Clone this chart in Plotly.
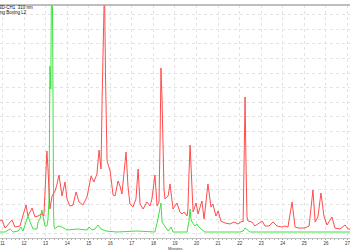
import plotly.graph_objects as go

# Retention time (min) and absorbance (arbitrary units)
red_time = [10.88, 10.98, 11.12, 11.44, 11.58, 11.81, 12.09, 12.18, 12.37, 12.51, 12.65, 12.83, 12.92,
            12.97, 13.06, 13.11, 13.16, 13.20, 13.30, 13.44, 13.53, 13.62, 13.76, 13.90, 13.99, 14.13,
            14.27, 14.41, 14.55, 14.73, 14.92, 15.11, 15.24, 15.38, 15.48, 15.57, 15.62, 15.64, 15.69,
            15.73, 15.78, 15.80, 15.85, 15.99, 16.08, 16.13, 16.22, 16.36, 16.45, 16.54, 16.73, 16.82,
            16.91, 17.05, 17.19, 17.29, 17.38, 17.52, 17.70, 17.84, 17.93, 18.07, 18.17, 18.26, 18.31,
            18.35, 18.40, 18.44, 18.49, 18.54, 18.68, 18.77, 18.91, 19.09, 19.23, 19.33, 19.42, 19.56,
            19.60, 19.65, 19.70, 19.74, 19.79, 19.84, 19.98, 20.07, 20.25, 20.35, 20.53, 20.62, 20.67,
            20.76, 20.90, 21.00, 21.13, 21.32, 21.55, 21.74, 21.92, 22.11, 22.16, 22.20, 22.25, 22.29,
            22.34, 22.39, 22.57, 22.71, 23.04, 23.18, 23.36, 23.55, 23.73, 23.96, 24.06, 24.24, 24.43,
            24.57, 24.71, 25.03, 25.22, 25.40, 25.50, 25.63, 25.77, 25.91, 26.05, 26.28, 26.42, 26.65,
            26.89, 27.03, 27.12]
red_value = [13, 14, 6, 14, 7, 8, 29, 18, 26, 17, 18, 20, 18,
             45, 83, 65, 35, 25, 38, 43, 50, 59, 38, 52, 35, 28,
             29, 42, 32, 29, 37, 58, 52, 60, 84, 65, 135, 175, 240,
             250, 155, 110, 73, 63, 45, 39, 38, 53, 48, 40, 82, 48,
             30, 27, 35, 65, 30, 25, 32, 28, 35, 59, 28, 32, 95,
             166, 135, 85, 45, 35, 38, 50, 25, 31, 22, 20, 22, 18,
             25, 60, 89, 70, 45, 22, 31, 20, 33, 15, 50, 35, 27,
             30, 18, 23, 13, 11, 10, 12, 10, 13, 12, 65, 137, 75,
             17, 13, 12, 8, 13, 8, 8, 12, 8, 7, 8, 7, 32,
             7, 6, 6, 8, 44, 12, 17, 41, 18, 9, 17, 6, 5,
             9, 5, 5]

green_time = [10.88, 11.12, 11.35, 11.49, 11.72, 11.86, 11.95, 12.14, 12.18, 12.28, 12.42, 12.60, 12.65,
              12.74, 12.83, 12.88, 12.97, 13.06, 13.11, 13.16, 13.20, 13.24, 13.27, 13.32, 13.34, 13.37,
              13.39, 13.44, 13.57, 13.76, 13.99, 14.46, 14.92, 15.01, 15.15, 15.29, 15.43, 15.57, 15.80,
              16.31, 17.24, 18.07, 18.21, 18.35, 18.40, 18.54, 18.68, 18.82, 18.91, 19.56, 19.65, 19.70,
              19.74, 19.79, 19.93, 20.02, 20.07, 20.21, 20.39, 22.02, 22.16, 22.25, 22.39, 22.48, 27.12]
green_value = [2, 2, 5, 2, 3, 7, 3, 15, 18, 12, 5, 5, 12,
               15, 24, 18, 8, 8, 15, 35, 168, 145, 245, 225, 85, 20,
               8, 5, 8, 7, 4, 5, 4, 7, 4, 5, 9, 5, 3,
               2, 3, 2, 15, 31, 12, 8, 3, 7, 2, 2, 13, 25,
               15, 12, 8, 10, 8, 5, 2, 2, 3, 6, 4, 2, 2]

tick_vals = list(range(11, 28))
tick_text = [str(v) for v in tick_vals]

fig = go.Figure()
fig.add_trace(go.Scatter(x=green_time, y=green_value, mode="lines",
                         line=dict(color="#3ee23e", width=1), showlegend=False))
fig.add_trace(go.Scatter(x=red_time, y=red_value, mode="lines",
                         line=dict(color="#ff4d4d", width=1), showlegend=False))

fig.update_layout(
    width=350, height=250,
    margin=dict(l=0, r=0, t=5, b=12),
    paper_bgcolor="white", plot_bgcolor="white",
    font=dict(family="Liberation Sans, Arial, sans-serif", size=5, color="#333333"),
    xaxis=dict(range=[10.884, 27.118], tickvals=tick_vals, ticktext=tick_text,
               ticklabeloverflow="allow",
               showgrid=True, gridcolor="#e3e3e3", griddash="dot", gridwidth=1,
               showline=True, linecolor="#c0c0c0", linewidth=1,
               ticks="outside", ticklen=1, tickcolor="#999999",
               minor=dict(dtick=0.2, ticks="outside", ticklen=1, tickcolor="#b0b0b0", showgrid=False),
               tickfont=dict(size=4.5, color="#333333"),
               zeroline=False, fixedrange=True, automargin=False),
    yaxis=dict(range=[-4, 229], tick0=0.4, dtick=14.6, showticklabels=False,
               showgrid=True, gridcolor="#e3e3e3", griddash="dot", gridwidth=1,
               zeroline=False, ticks="", showline=False, fixedrange=True),
    shapes=[dict(type="line", xref="paper", yref="paper", x0=0, x1=1, y0=1, y1=1,
                 line=dict(color="#a8a8a8", width=1.5))],
    annotations=[
        dict(text="3D-CH1  310 nm", xref="paper", yref="paper", x=0, y=0.9893,
             xanchor="left", yanchor="middle", xshift=-3, showarrow=False,
             font=dict(size=4.5, color="#111111")),
        dict(text="ing Boxing L2", xref="paper", yref="paper", x=0, y=0.968,
             xanchor="left", yanchor="middle", xshift=-3, showarrow=False,
             font=dict(size=4.5, color="#111111")),
        dict(text="Minutes", xref="paper", yref="paper", x=0.5, y=-0.030,
             xanchor="center", yanchor="top", showarrow=False, borderpad=0,
             font=dict(size=4.2, color="#333333")),
    ],
)

fig.write_html("out.html")
